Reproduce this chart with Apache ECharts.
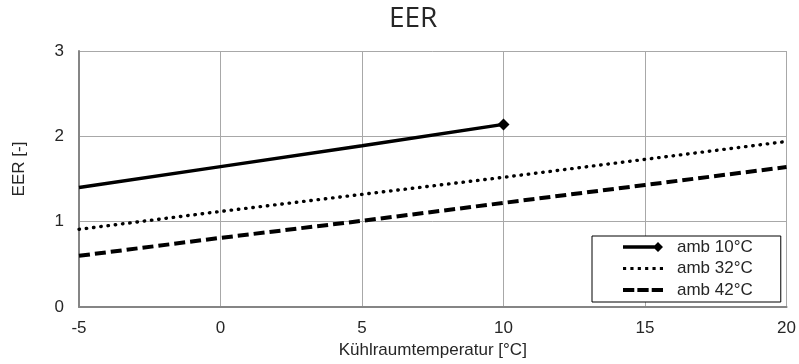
<!DOCTYPE html>
<html>
<head>
<meta charset="utf-8">
<script src="https://cdn.jsdelivr.net/npm/echarts@6/dist/echarts.min.js"></script>
<style>
  html, body { margin: 0; padding: 0; background: #fff; }
  #chart { width: 799px; height: 364px; }
</style>
</head>
<body>
<div id="chart"></div>
<script>
// Cold room temperature [°C]
const roomTemps = [-5, 0, 5, 10, 15, 20];
// EER per ambient temperature
const eerAmb10 = [1.40, 1.645, 1.89, 2.14, null, null];
const eerAmb32 = [0.91, 1.12, 1.32, 1.52, 1.73, 1.94];
const eerAmb42 = [0.60, 0.81, 1.01, 1.22, 1.43, 1.64];
const seriesNames = ['amb 10°C', 'amb 32°C', 'amb 42°C'];
const xTicks = { min: -5, max: 20, step: 5 };
const yTicks = { min: 0, max: 3, step: 1 };

const FONT = '"Liberation Sans", Arial, sans-serif';

function pairs(values, lastMarker) {
  const out = [];
  let lastIdx = -1;
  values.forEach((v, i) => { if (v !== null) lastIdx = i; });
  values.forEach((v, i) => {
    if (v === null) return;
    const item = { value: [roomTemps[i], v] };
    if (lastMarker) item.symbol = i === lastIdx ? 'diamond' : 'none';
    out.push(item);
  });
  return out;
}

// legend icons: solid with end diamond, dotted, dashed
const iconSolid = 'path://M0,3.3 L32,3.3 L32,6.7 L0,6.7 Z M35,0 L40,5 L35,10 L30,5 Z';
const iconDotted = 'path://M0,0 H3 V3 H0 Z M7,0 H10 V3 H7 Z M14,0 H17 V3 H14 Z M21,0 H24 V3 H21 Z M28,0 H31 V3 H28 Z M35,0 H38 V3 H35 Z';
const iconDashed = 'path://M0,0 H11 V4 H0 Z M14,0 H25 V4 H14 Z M28,0 H39 V4 H28 Z';

const chart = echarts.init(document.getElementById('chart'), null, { renderer: 'canvas' });
chart.setOption({
  animation: false,
  backgroundColor: '#ffffff',
  title: {
    text: 'EER',
    left: 389,
    top: 5,
    padding: 0,
    textStyle: { fontFamily: '"Open Sans", sans-serif', fontSize: 28, fontWeight: 'normal', color: '#262626' }
  },
  grid: { left: 79, right: 12, top: 51, bottom: 57 },
  xAxis: {
    type: 'value',
    min: xTicks.min, max: xTicks.max, interval: xTicks.step,
    name: 'Kühlraumtemperatur [°C]',
    nameLocation: 'middle',
    nameGap: 32,
    nameTextStyle: { fontFamily: FONT, fontSize: 17, color: '#262626' },
    axisLine: { onZero: false, lineStyle: { color: '#858585', width: 2 } },
    axisTick: { show: false },
    axisLabel: { margin: 13, fontFamily: FONT, fontSize: 17, color: '#262626' },
    splitLine: { show: true, lineStyle: { color: '#a8a8a8', width: 1 } }
  },
  yAxis: {
    type: 'value',
    min: yTicks.min, max: yTicks.max, interval: yTicks.step,
    axisLine: { show: true, onZero: false, lineStyle: { color: '#858585', width: 2 } },
    axisTick: { show: false },
    axisLabel: { margin: 15, fontFamily: FONT, fontSize: 17, color: '#262626' },
    splitLine: { show: true, lineStyle: { color: '#a8a8a8', width: 1 } }
  },
  graphic: [{
    type: 'text',
    x: 19.5, y: 169,
    rotation: Math.PI / 2,
    style: {
      text: 'EER [-]',
      font: '17px ' + FONT,
      fill: '#262626',
      align: 'center',
      verticalAlign: 'middle'
    }
  }],
  legend: {
    orient: 'vertical',
    left: 592, top: 236,
    padding: [2.5, 28, 3.5, 31],
    itemGap: 4.5,
    itemWidth: 40,
    itemHeight: 10,
    borderColor: '#000',
    borderWidth: 1,
    backgroundColor: '#fff',
    itemStyle: { borderWidth: 0 },
    textStyle: { fontFamily: FONT, fontSize: 17, color: '#262626', padding: [0, 0, 0, 9] },
    data: [
      { name: seriesNames[0], icon: iconSolid },
      { name: seriesNames[1], icon: iconDotted },
      { name: seriesNames[2], icon: iconDashed }
    ]
  },
  series: [
    {
      name: seriesNames[0],
      type: 'line',
      data: pairs(eerAmb10, true),
      symbol: 'diamond',
      symbolSize: 12,
      showSymbol: true,
      color: '#000',
      itemStyle: { color: '#000', borderWidth: 0 },
      lineStyle: { color: '#000', width: 3.5 },
      z: 4
    },
    {
      name: seriesNames[1],
      type: 'line',
      data: pairs(eerAmb32, false),
      symbol: 'none',
      color: '#000',
      itemStyle: { color: '#000', borderWidth: 0 },
      lineStyle: { color: '#000', width: 3.4, type: [0.5, 6.8], cap: 'round' },
      z: 3
    },
    {
      name: seriesNames[2],
      type: 'line',
      data: pairs(eerAmb42, false),
      symbol: 'none',
      color: '#000',
      itemStyle: { color: '#000', borderWidth: 0 },
      lineStyle: { color: '#000', width: 4, type: [11, 5] },
      z: 3
    }
  ]
});
</script>
</body>
</html>
